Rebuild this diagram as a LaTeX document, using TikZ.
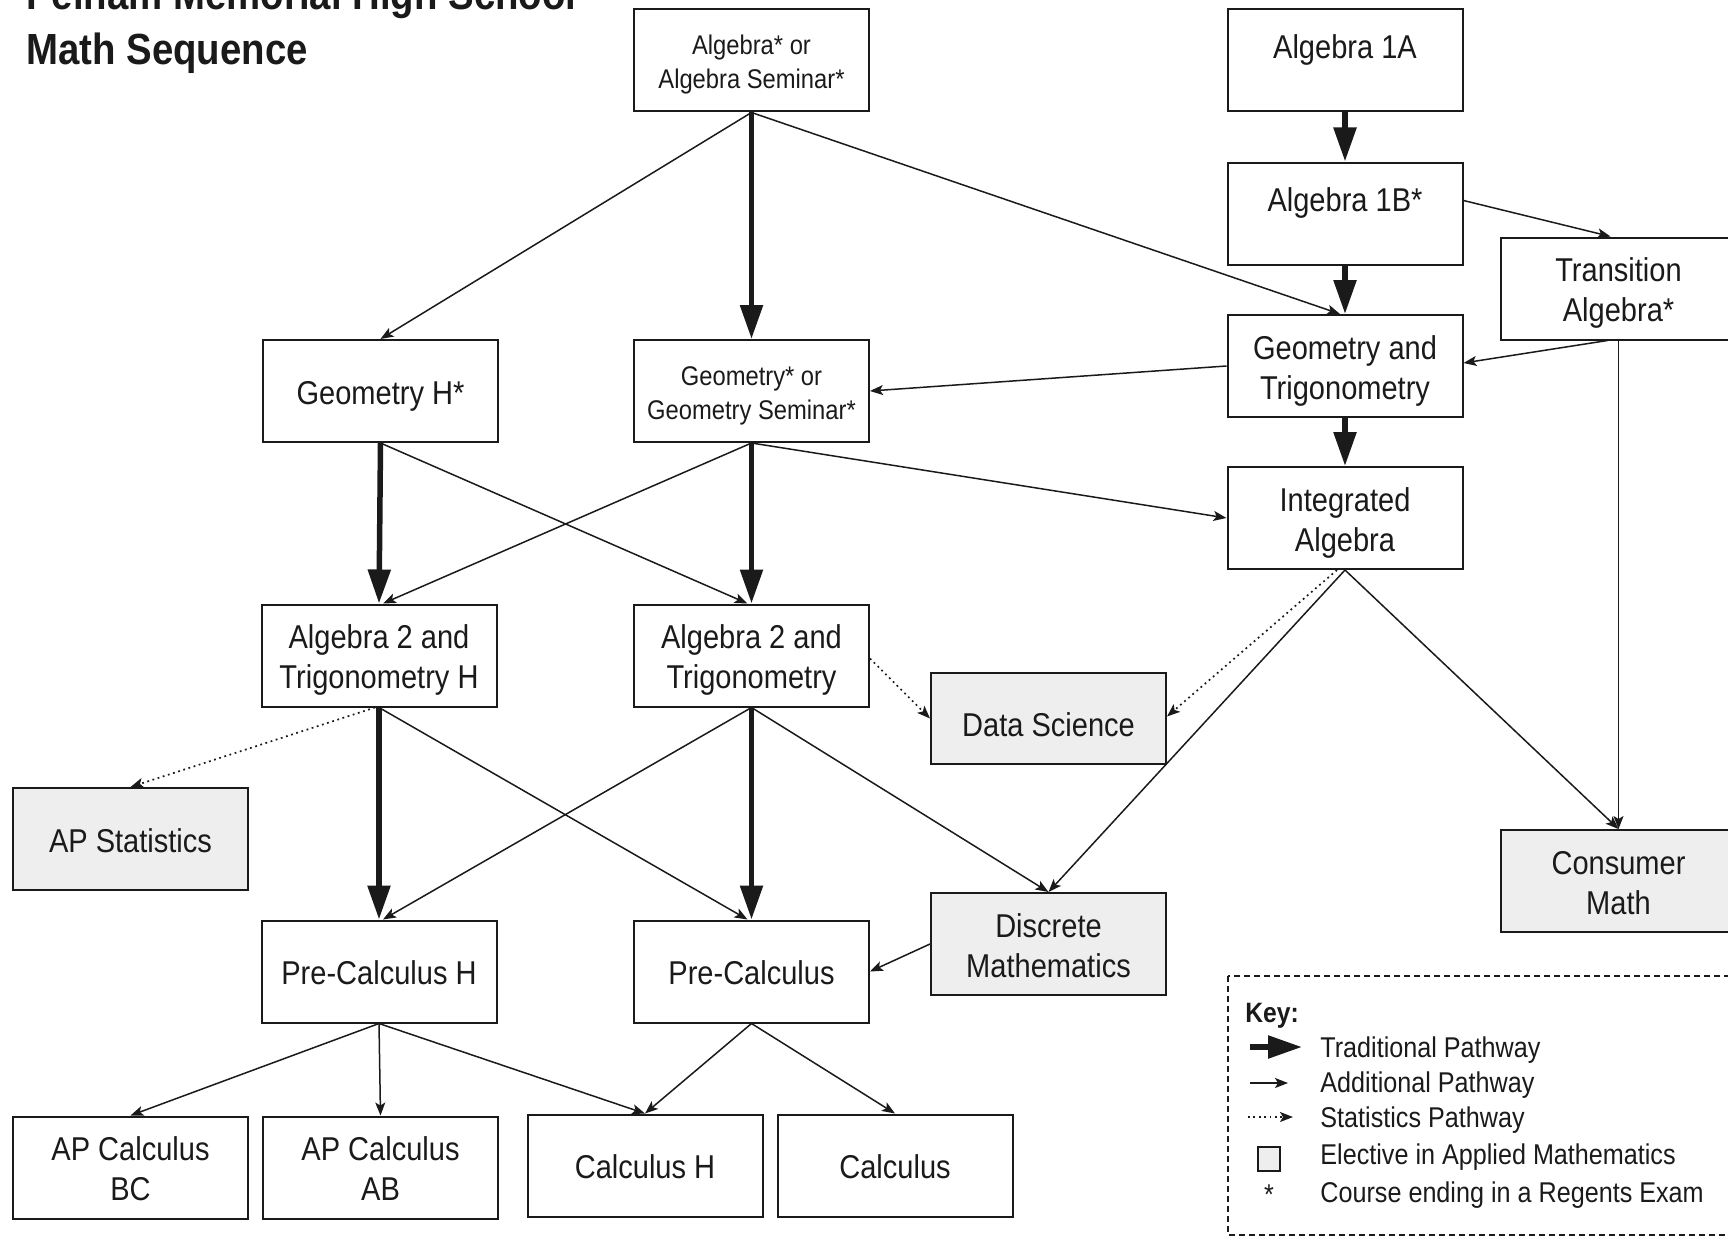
\documentclass[tikz,border=0pt]{standalone}
\usepackage{fontspec}
\setmainfont{Liberation Sans}[FakeStretch=0.88]
\usetikzlibrary{arrows.meta}
\definecolor{elective}{HTML}{EEEEEE}
\definecolor{ink}{HTML}{1A1A1A}
\newcommand{\twolines}[2]{\raisebox{0pt}[\dimexpr\baselineskip+0.716em+1.6pt\relax][0pt]{\begin{tabular}[b]{@{}c@{}}#1\\#2\end{tabular}}}
\tikzset{
  course/.style={draw=ink, line width=1pt, minimum width=117.5pt, minimum height=51pt,
    inner sep=0pt, text=ink, font=\fontsize{16.5pt}{20pt}\selectfont},
  small/.style={font=\fontsize{13.5pt}{17pt}\selectfont},
  one/.style={text height=13pt, text depth=0pt},
  raised/.style={text height=13pt, text depth=14.7pt},
  elective/.style={fill=elective},
  tradarrow/.style={draw=ink, line width=2.75pt, -{Triangle[length=17pt,width=11pt]}},
  addarrow/.style={draw=ink, line width=0.75pt, -{Stealth[length=6.5pt,width=5pt,inset=1.5pt]}},
  statarrow/.style={draw=ink, line width=0.85pt, dash pattern=on 0.9pt off 1.8pt,
    -{Stealth[length=6.5pt,width=5pt,inset=1.5pt]}},
  titletext/.style={font=\fontsize{21.8pt}{27.5pt}\selectfont\bfseries, text=ink, inner sep=0pt},
  keytext/.style={font=\fontsize{14.3pt}{17pt}\selectfont, text=ink, inner sep=0pt,
    text height=10.24pt, text depth=0pt, anchor=west},
  keyframe/.style={draw=ink, line width=0.75pt, dash pattern=on 3pt off 2pt}
}
\begin{document}
\begin{tikzpicture}[x=0.5pt,y=-0.5pt]
\useasboundingbox (0,0) rectangle (1728,1236);
\clip (0,0) rectangle (1728,1236);

% title
\node[titletext, anchor=base west] (t1) at (26,10) {Pelham Memorial High School};
\node[titletext, anchor=base west] (t2) at (26,65) {Math Sequence};

% courses
\node[course, small] (algsem) at (751.5,60.5) {\twolines{Algebra* or}{Algebra Seminar*}};
\node[course, raised] (alg1a) at (1345,60.5) {Algebra 1A};
\node[course, raised] (alg1b) at (1345,213.5) {Algebra 1B*};
\node[course] (trans) at (1618.5,288.5) {\twolines{Transition}{Algebra*}};
\node[course] (geotrig) at (1345,366) {\twolines{Geometry and}{Trigonometry}};
\node[course, one] (geomh) at (380.5,391) {Geometry H*};
\node[course, small] (geomsem) at (751.5,391) {\twolines{Geometry* or}{Geometry Seminar*}};
\node[course] (intalg) at (1345,518) {\twolines{Integrated}{Algebra}};
\node[course] (alg2h) at (379,655.5) {\twolines{Algebra 2 and}{Trigonometry H}};
\node[course] (alg2) at (751.5,655.5) {\twolines{Algebra 2 and}{Trigonometry}};
\node[course, elective, minimum height=45.5pt, text height=17.8pt, text depth=0pt] (datasci) at (1048.5,718.5) {Data Science};
\node[course, one, elective] (apstat) at (130.5,839) {AP Statistics};
\node[course, elective] (consumer) at (1618.5,881) {\twolines{Consumer}{Math}};
\node[course, elective] (discrete) at (1048.5,944) {\twolines{Discrete}{Mathematics}};
\node[course, one] (precalch) at (379,971.5) {Pre-Calculus H};
\node[course, one] (precalc) at (751.5,971.5) {Pre-Calculus};
\node[course] (apcbc) at (130.5,1167.5) {\twolines{AP Calculus}{BC}};
\node[course] (apcab) at (380.5,1167.5) {\twolines{AP Calculus}{AB}};
\node[course, one] (calch) at (645,1165.5) {Calculus H};
\node[course, one] (calc) at (895,1165.5) {Calculus};

% traditional pathway
\draw[tradarrow] (algsem.south) -- (geomsem.north);
\draw[tradarrow] (alg1a.south) -- (alg1b.north);
\draw[tradarrow] (alg1b.south) -- (geotrig.north);
\draw[tradarrow] (geotrig.south) -- (intalg.north);
\draw[tradarrow] (geomh.south) -- (alg2h.north);
\draw[tradarrow] (geomsem.south) -- (alg2.north);
\draw[tradarrow] (alg2h.south) -- (precalch.north);
\draw[tradarrow] (alg2.south) -- (precalc.north);

% additional pathway
\draw[addarrow] (algsem.south) -- (geomh.north);
\draw[addarrow] (algsem.south) -- ([xshift=-2.5pt]geotrig.north);
\draw[addarrow] ([yshift=6.5pt]alg1b.east) -- ([xshift=-4pt]trans.north);
\draw[addarrow] ([xshift=-5.5pt]trans.south) -- ([yshift=1.5pt]geotrig.east);
\draw[addarrow] (trans.south) -- (consumer.north);
\draw[addarrow] (geotrig.west) -- (geomsem.east);
\draw[addarrow] (geomh.south) -- ([xshift=-2pt]alg2.north);
\draw[addarrow] (geomsem.south) -- ([xshift=2pt]alg2h.north);
\draw[addarrow] (geomsem.south) -- (intalg.west);
\draw[addarrow] (intalg.south) -- (discrete.north);
\draw[addarrow] (intalg.south) -- (consumer.north);
\draw[addarrow] (alg2h.south) -- ([xshift=-2pt]precalc.north);
\draw[addarrow] (alg2.south) -- ([xshift=2pt]precalch.north);
\draw[addarrow] (alg2.south) -- (discrete.north);
\draw[addarrow] (discrete.west) -- (precalc.east);
\draw[addarrow] (precalch.south) -- (apcbc.north);
\draw[addarrow] (precalch.south) -- (apcab.north);
\draw[addarrow] (precalch.south) -- (calch.north);
\draw[addarrow] (precalc.south) -- (calch.north);
\draw[addarrow] (precalc.south) -- (calc.north);

% statistics pathway
\draw[statarrow] ([yshift=-1.5pt]alg2.east) -- (datasci.west);
\draw[statarrow] ([xshift=-4pt]intalg.south) -- ([yshift=1pt]datasci.east);
\draw[statarrow] ([xshift=-2pt]alg2h.south) -- (apstat.north);

% key
\draw[keyframe] (1228,976) rectangle (1760,1235);
\node[keytext, font=\fontsize{14pt}{17pt}\selectfont\bfseries] (keyhead) at (1245,1012) {Key:};
\coordinate (k1a) at (1250,1047); \coordinate (k1b) at (1302,1047);
\coordinate (k2a) at (1250,1083); \coordinate (k2b) at (1288,1083);
\coordinate (k3a) at (1248,1117); \coordinate (k3b) at (1293,1117);
\draw[tradarrow] (k1a) -- (k1b);
\draw[addarrow] (k2a) -- (k2b);
\draw[statarrow] (k3a) -- (k3b);
\node[draw=ink, line width=0.75pt, fill=elective, minimum width=11pt, minimum height=12pt, inner sep=0pt] (ksq) at (1269,1159) {};
\node[font=\fontsize{14.3pt}{17pt}\selectfont, text=ink, inner sep=0pt, anchor=base] (kstar) at (1269,1204) {*};
\node[keytext] (kt1) at (1320,1047) {Traditional Pathway};
\node[keytext] (kt2) at (1320,1082) {Additional Pathway};
\node[keytext] (kt3) at (1320,1117) {Statistics Pathway};
\node[keytext] (kt4) at (1320,1154) {Elective in Applied Mathematics};
\node[keytext] (kt5) at (1320,1192) {Course ending in a Regents Exam};
\end{tikzpicture}
\end{document}
